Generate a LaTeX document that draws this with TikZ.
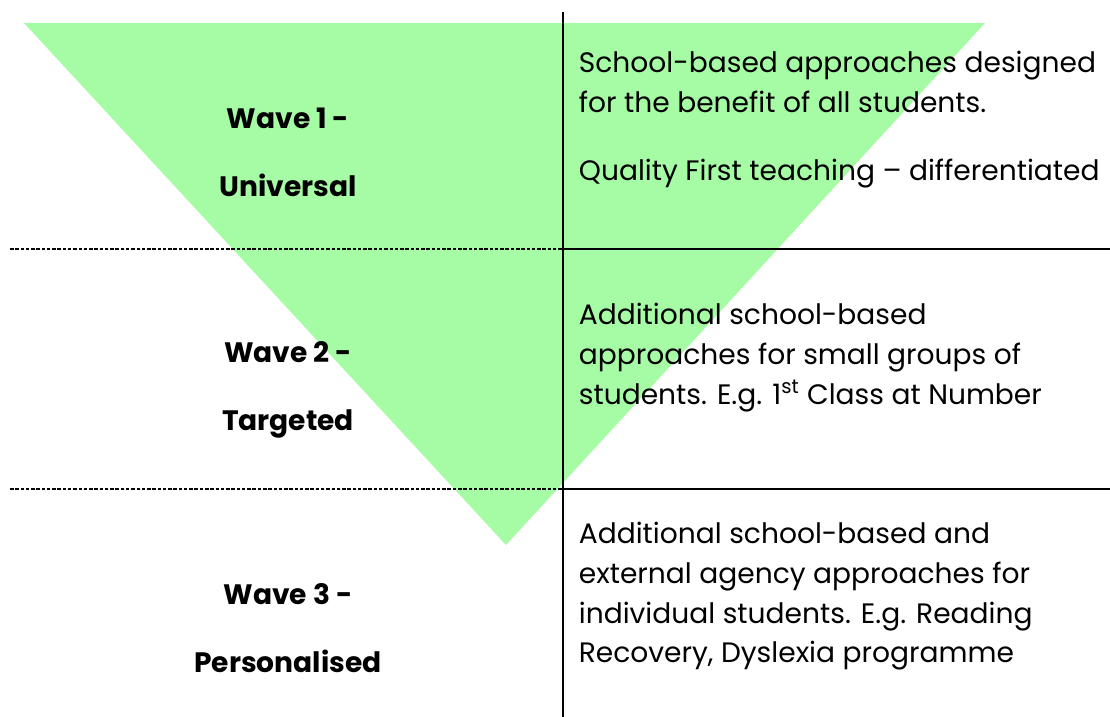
\documentclass[tikz,border=0pt]{standalone}
\usepackage{fontspec}
\setmainfont{Poppins}
\usetikzlibrary{positioning}
\definecolor{wavegreen}{RGB}{166,252,164}

\begin{document}
\begin{tikzpicture}[x=0.02cm,y=-0.02cm,line width=1pt]
    \tikzstyle{every node}=[font=\fontsize{16}{22.7}\selectfont,inner sep=0pt]
    \tikzstyle{wave}=[font=\fontsize{16}{38.7}\selectfont\bfseries,align=center]
    \tikzstyle{info}=[anchor=north west,align=left]
    \tikzstyle{split}=[dash pattern=on 2pt off 1pt,line width=0.8pt]
    \useasboundingbox (0,0) rectangle (1110,717);

    % inverted triangle
    \fill[wavegreen] (24,23) -- (985,23) -- (506,545) -- cycle;

    % grid
    \coordinate (top) at (563,12);
    \coordinate (bot) at (563,717);
    \coordinate (a1) at (10,249);
    \coordinate (m1) at (563,249);
    \coordinate (b1) at (1110,249);
    \coordinate (a2) at (10,489);
    \coordinate (m2) at (563,489);
    \coordinate (b2) at (1110,489);
    \draw (top) -- (bot);
    \draw[split] (a1) -- (m1);
    \draw (m1) -- (b1);
    \draw[split] (a2) -- (m2);
    \draw (m2) -- (b2);

    % wave labels
    \node[wave] (w1) at (288,152) {Wave 1 -\\Universal};
    \node[wave] (w2) at (288,390) {Wave 2 -\\Targeted};
    \node[wave] (w3) at (288,628) {Wave 3 -\\Personalised};

    % descriptions
    \node[info] (d1) at (578,50) {School-based approaches designed\\for the benefit of all students.\\[0.56cm]Quality First teaching -- differentiated};
    \node[info] (d2) at (578,302) {Additional school-based\\approaches for small groups of\\students. E.g. 1\textsuperscript{st} Class at Number};
    \node[info] (d3) at (578,521) {Additional school-based and\\external agency approaches for\\individual students. E.g. Reading\\Recovery, Dyslexia programme};
\end{tikzpicture}
\end{document}
